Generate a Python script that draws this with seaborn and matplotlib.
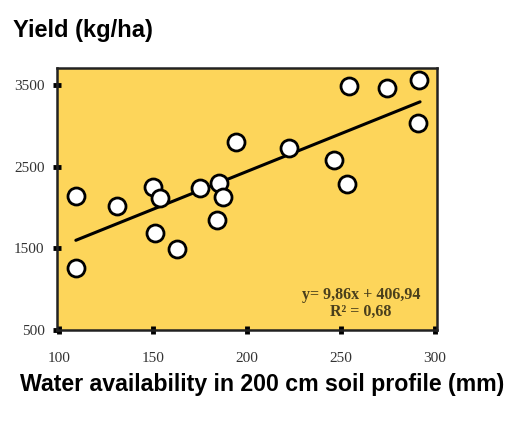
import matplotlib
matplotlib.use("Agg")
import matplotlib.pyplot as plt
import seaborn as sns
import pandas as pd

water = [109, 109, 131, 150, 151, 154, 163, 175, 184, 185, 187, 194, 222.5, 246.5, 253, 254, 274.5, 291, 291.5]
yield_ = [2146, 1256, 2012, 2256, 1683, 2110, 1488, 2244, 1841, 2305, 2134, 2805, 2732, 2585, 2293, 3488, 3463, 3037, 3560]
fit_x = [109, 292]
fit_y = [1598, 3293]
x_ticks = [100, 150, 200, 250, 300]
y_ticks = [500, 1500, 2500, 3500]
equation = "y= 9,86x + 406,94\nR² = 0,68"

df = pd.DataFrame({"water": water, "yield": yield_})
fit = pd.DataFrame({"water": fit_x, "yield": fit_y})

sns.set_style("white")
fig = plt.figure(figsize=(5.26, 4.25), dpi=100)
ax = fig.add_axes([0.1084, 0.2235, 0.7224, 0.6165])
ax.set_facecolor("#fdd55a")

sns.lineplot(data=fit, x="water", y="yield", ax=ax, color="black", linewidth=2.2)
sns.scatterplot(data=df, x="water", y="yield", ax=ax, s=150, color="white",
                edgecolor="black", linewidth=2.0, zorder=3)

ax.set_xlim(99, 301)
ax.set_ylim(500, 3707)
ax.set_xticks(x_ticks)
ax.set_yticks(y_ticks)
ax.set_xticklabels([str(t) for t in x_ticks], family="Liberation Serif", fontsize=11, color="#333333")
ax.set_yticklabels([str(t) for t in y_ticks], family="Liberation Serif", fontsize=11, color="#333333")
ax.tick_params(axis="both", direction="inout", length=6, width=3.5, color="black",
               bottom=True, left=True)
ax.tick_params(axis="x", pad=13)
ax.tick_params(axis="y", pad=6)
for s in ax.spines.values():
    s.set_color("#222222")
    s.set_linewidth(1.8)
ax.set_xlabel("")
ax.set_ylabel("")

ax.text(0.8, 0.04, equation, transform=ax.transAxes, ha="center", va="bottom",
        family="Liberation Serif", fontweight="bold", fontsize=11.5, color="#4a3f1c",
        linespacing=1.05)

fig.text(13 / 526, 1 - 31 / 425, "Yield (kg/ha)", family="Liberation Sans",
         fontweight="bold", fontsize=17, ha="left", va="center", color="black")
fig.text(262 / 526, 1 - 384 / 425, "Water availability in 200 cm soil profile (mm)",
         family="Liberation Sans", fontweight="bold", fontsize=16.7, ha="center", va="center",
         color="black")

fig.savefig("out.png", dpi=100)
